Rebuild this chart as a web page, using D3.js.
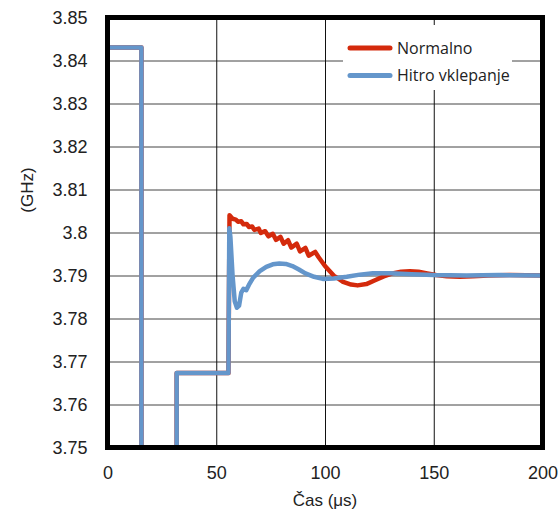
<!DOCTYPE html>
<html>
<head>
<meta charset="UTF-8">
<title>Frekvenca</title>
<script src="https://d3js.org/d3.v7.min.js"></script>
<style>
  body { margin: 0; background: #fff; }
  .tick text { font-family: "Liberation Sans", Arial, sans-serif; font-size: 18px; fill: #222; }
</style>
</head>
<body>
<svg class="chart"></svg>
<script>
// tick values
const xTicks = [0, 50, 100, 150, 200];
const yTicks = [3.75, 3.76, 3.77, 3.78, 3.79, 3.8, 3.81, 3.82, 3.83, 3.84, 3.85];

// series: "Normalno" (red)
const tRed = [0, 15.6, 15.6, 31.8, 31.8, 55.6, 56.1, 57.5, 59, 60, 61.5, 62.5, 64, 65, 66.5, 67.5,
  69.5, 70.5, 72.5, 74, 76, 77.5, 79.5, 81, 83, 84.5, 87, 88.5, 91, 92.5, 95.5, 97,
  100, 104, 108, 112, 115, 119, 123, 127, 131, 135, 139, 143, 147, 151, 156, 162, 168, 175, 185, 200];
const vRed = [3.843, 3.843, 3.745, 3.745, 3.7673, 3.7673, 3.8040, 3.8032, 3.8030, 3.8025, 3.8026, 3.8019, 3.8020, 3.8013, 3.8014, 3.8006,
  3.8009, 3.7999, 3.8003, 3.7991, 3.7997, 3.7983, 3.7990, 3.7974, 3.7982, 3.7965, 3.7974, 3.7956, 3.7964, 3.7946, 3.7955, 3.7943,
  3.7922, 3.7900, 3.7886, 3.7879, 3.7877, 3.7880, 3.7889, 3.7898, 3.7905, 3.7909, 3.7910, 3.7909, 3.7905, 3.7901, 3.7898, 3.7897, 3.7898, 3.7900, 3.7901, 3.7900];

// series: "Hitro vklepanje" (blue)
const tBlue = [0, 15.6, 15.6, 31.8, 31.8, 55.6, 56.0, 56.5, 57.5, 58.5, 59.5, 60.5, 61.5, 62.5, 63.8, 65, 67, 70,
  73, 76, 79, 82, 85, 88, 91, 95, 99, 104, 110, 116, 122, 130, 140, 150, 165, 180, 200];
const vBlue = [3.843, 3.843, 3.745, 3.745, 3.7673, 3.7673, 3.8010, 3.7990, 3.7900, 3.7840, 3.7825, 3.7830, 3.7860, 3.7869, 3.7866, 3.7878, 3.7895, 3.7910,
  3.7920, 3.7926, 3.7928, 3.7927, 3.7922, 3.7914, 3.7905, 3.7897, 3.7892, 3.7893, 3.7897, 3.7902, 3.7905, 3.7905, 3.7903, 3.7901, 3.7900, 3.7901, 3.7900];

const seriesNames = ["Normalno", "Hitro vklepanje"];
const seriesColors = ["#d42a0c", "#6496cb"];

const margins = {top: 17.5, left: 107.5, right: 15.5, bottom: 71.5};
const width = 435;
const height = 430;

const svg = d3.select(".chart")
    .attr("width", 558)
    .attr("height", 519);

const chart = svg.append("g")
    .attr("transform", `translate(${margins.left}, ${margins.top})`);

const x_scale = d3.scaleLinear().domain([0, 200]).range([0, width]);
const y_scale = d3.scaleLinear().domain([3.75, 3.85]).range([height, 0]);

// grid + tick labels
const yAxis = chart.append("g")
    .call(d3.axisLeft(y_scale).tickValues(yTicks).tickSize(-width).tickPadding(20)
        .tickFormat(d => d3.format("")(+d.toFixed(2))));
yAxis.select(".domain").remove();
yAxis.selectAll("line").attr("stroke", "#444").attr("stroke-width", 1);

const xAxis = chart.append("g")
    .attr("transform", `translate(0, ${height})`)
    .call(d3.axisBottom(x_scale).tickValues(xTicks).tickSize(-height).tickPadding(19));
xAxis.select(".domain").remove();
xAxis.selectAll("line").attr("stroke", "#111").attr("stroke-width", 1);

// clip lines to plot area
chart.append("clipPath").attr("id", "plot")
    .append("rect").attr("width", width).attr("height", height);

const line = d3.line()
    .x(d => x_scale(d[0]))
    .y(d => y_scale(d[1]));

const redData = tRed.map((t, i) => [t, vRed[i]]);
const blueData = tBlue.map((t, i) => [t, vBlue[i]]);

[redData, blueData].forEach((data, i) => {
    chart.append("path")
        .datum(data)
        .attr("clip-path", "url(#plot)")
        .attr("d", line)
        .attr("fill", "none")
        .attr("stroke", seriesColors[i])
        .attr("stroke-width", 4.5)
        .attr("stroke-linejoin", "round");
});

// legend
const legend = chart.append("g")
    .attr("transform", `translate(${343 - margins.left}, ${25 - margins.top})`);

legend.append("rect")
    .attr("width", 169)
    .attr("height", 65)
    .attr("fill", "#fff");

seriesNames.forEach((name, i) => {
    legend.append("line")
        .attr("x1", 7).attr("x2", 47)
        .attr("y1", 23 + i * 27.5).attr("y2", 23 + i * 27.5)
        .attr("stroke", seriesColors[i])
        .attr("stroke-width", 5)
        .attr("stroke-linecap", "round");
    legend.append("text")
        .attr("x", 54)
        .attr("y", 23 + i * 27.5)
        .attr("dy", "0.35em")
        .attr("font-family", "'Open Sans', sans-serif")
        .attr("font-size", 16)
        .attr("fill", "#222")
        .text(name);
});

// frame
chart.append("rect")
    .attr("width", width)
    .attr("height", height)
    .attr("fill", "none")
    .attr("stroke", "#000")
    .attr("stroke-width", 5);

// axis titles
svg.append("text")
    .attr("text-anchor", "middle")
    .attr("x", margins.left + width / 2)
    .attr("y", 506)
    .attr("font-family", "'Liberation Sans', Arial, sans-serif")
    .attr("font-size", 17)
    .attr("fill", "#222")
    .text("Čas (μs)");

svg.append("text")
    .attr("text-anchor", "middle")
    .attr("transform", `translate(33, 190)rotate(-90)`)
    .attr("font-family", "'Liberation Sans', Arial, sans-serif")
    .attr("font-size", 17)
    .attr("fill", "#222")
    .text("(GHz)");
</script>
</body>
</html>
